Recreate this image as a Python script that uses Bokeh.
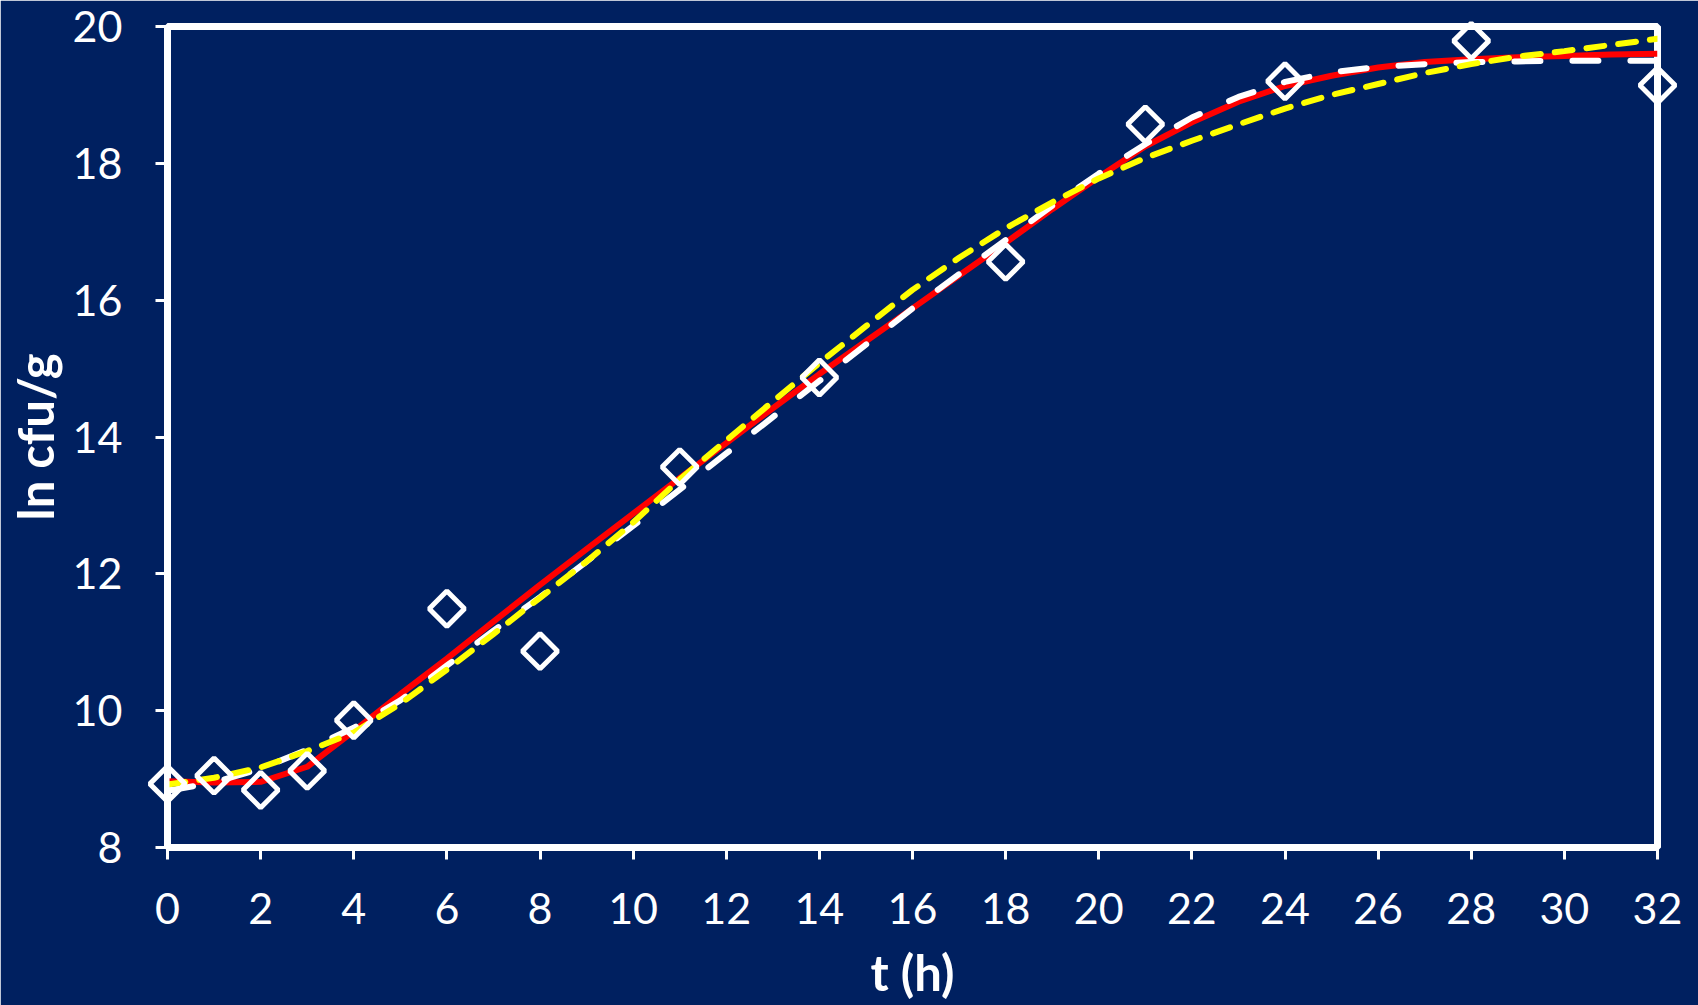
from math import pi

from bokeh.plotting import figure
from bokeh.models import Range1d, FixedTicker
from bokeh.embed import file_html
from bokeh.resources import INLINE

# Observed counts (ln cfu/g) over time (h)
t_obs = [0, 1, 2, 3, 4, 6, 8, 11, 14, 18, 21, 24, 28, 32]
ln_obs = [8.93, 9.05, 8.84, 9.12, 9.86, 11.49, 10.87, 13.56, 14.87,
          16.56, 18.57, 19.20, 19.79, 19.14]

# Fitted growth curves, sampled every hour
t_fit = list(range(0, 33))
fit_solid = [8.97, 8.95, 8.96, 9.18, 9.70, 10.24, 10.76, 11.30, 11.84, 12.36,
             12.88, 13.40, 13.91, 14.42, 14.92, 15.40, 15.88, 16.36, 16.84,
             17.33, 17.80, 18.25, 18.60, 18.90, 19.13, 19.28, 19.40, 19.48,
             19.52, 19.55, 19.57, 19.59, 19.60]
fit_long_dash = [8.83, 8.95, 9.15, 9.43, 9.75, 10.15, 10.66, 11.17, 11.66,
                 12.18, 12.70, 13.23, 13.76, 14.29, 14.82, 15.35, 15.88,
                 16.38, 16.88, 17.38, 17.85, 18.28, 18.67, 18.97, 19.19,
                 19.33, 19.41, 19.45, 19.48, 19.49, 19.50, 19.50, 19.50]
fit_short_dash = [8.92, 9.02, 9.17, 9.41, 9.68, 10.10, 10.60, 11.12, 11.65,
                  12.18, 12.75, 13.38, 13.95, 14.52, 15.08, 15.62, 16.15,
                  16.62, 17.05, 17.43, 17.78, 18.08, 18.33, 18.57, 18.80,
                  19.00, 19.16, 19.32, 19.45, 19.56, 19.64, 19.73, 19.82]

x_ticks = list(range(0, 33, 2))
y_ticks = list(range(8, 21, 2))

NAVY = "#002060"
FONT = "Lato"

p = figure(width=1698, height=1005, output_backend="svg", toolbar_location=None,
           x_range=Range1d(0, 32), y_range=Range1d(8, 20),
           min_border_left=167, min_border_right=41,
           min_border_top=26, min_border_bottom=158)

p.background_fill_color = NAVY
p.border_fill_color = NAVY
p.outline_line_color = "white"
p.outline_line_width = 7
p.grid.visible = False

for ax in (p.xaxis[0], p.yaxis[0]):
    ax.axis_line_color = "white"
    ax.axis_line_width = 4
    ax.major_tick_line_color = "white"
    ax.major_tick_line_width = 3
    ax.major_tick_out = 12
    ax.major_tick_in = 0
    ax.minor_tick_line_color = None
    ax.major_label_text_color = "white"
    ax.major_label_text_font = FONT
    ax.major_label_text_font_size = "43px"
    ax.axis_label_text_color = "white"
    ax.axis_label_text_font = FONT
    ax.axis_label_text_font_style = "bold"
    ax.axis_label_text_font_size = "49px"

p.xaxis.ticker = FixedTicker(ticks=x_ticks)
p.yaxis.ticker = FixedTicker(ticks=y_ticks)
p.xaxis.axis_label = "t (h)"
p.yaxis.axis_label = "ln cfu/g"
p.xaxis.major_label_standoff = 33
p.yaxis.major_label_standoff = 33
p.xaxis.axis_label_standoff = 16
p.yaxis.axis_label_standoff = 6

p.line(t_fit, fit_solid, line_color="#FF0000", line_width=6)
p.line(t_fit, fit_long_dash, line_color="white", line_width=6,
       line_dash="26 32", line_cap="round")
p.line(t_fit, fit_short_dash, line_color="#FFFF00", line_width=6,
       line_dash="18 14", line_cap="round")

pts = p.scatter(t_obs, ln_obs, marker="square", size=25, angle=pi / 4,
                fill_color=None, line_color="white", line_width=5)
pts.level = "overlay"

open("out.html", "w").write(file_html(p, INLINE))
